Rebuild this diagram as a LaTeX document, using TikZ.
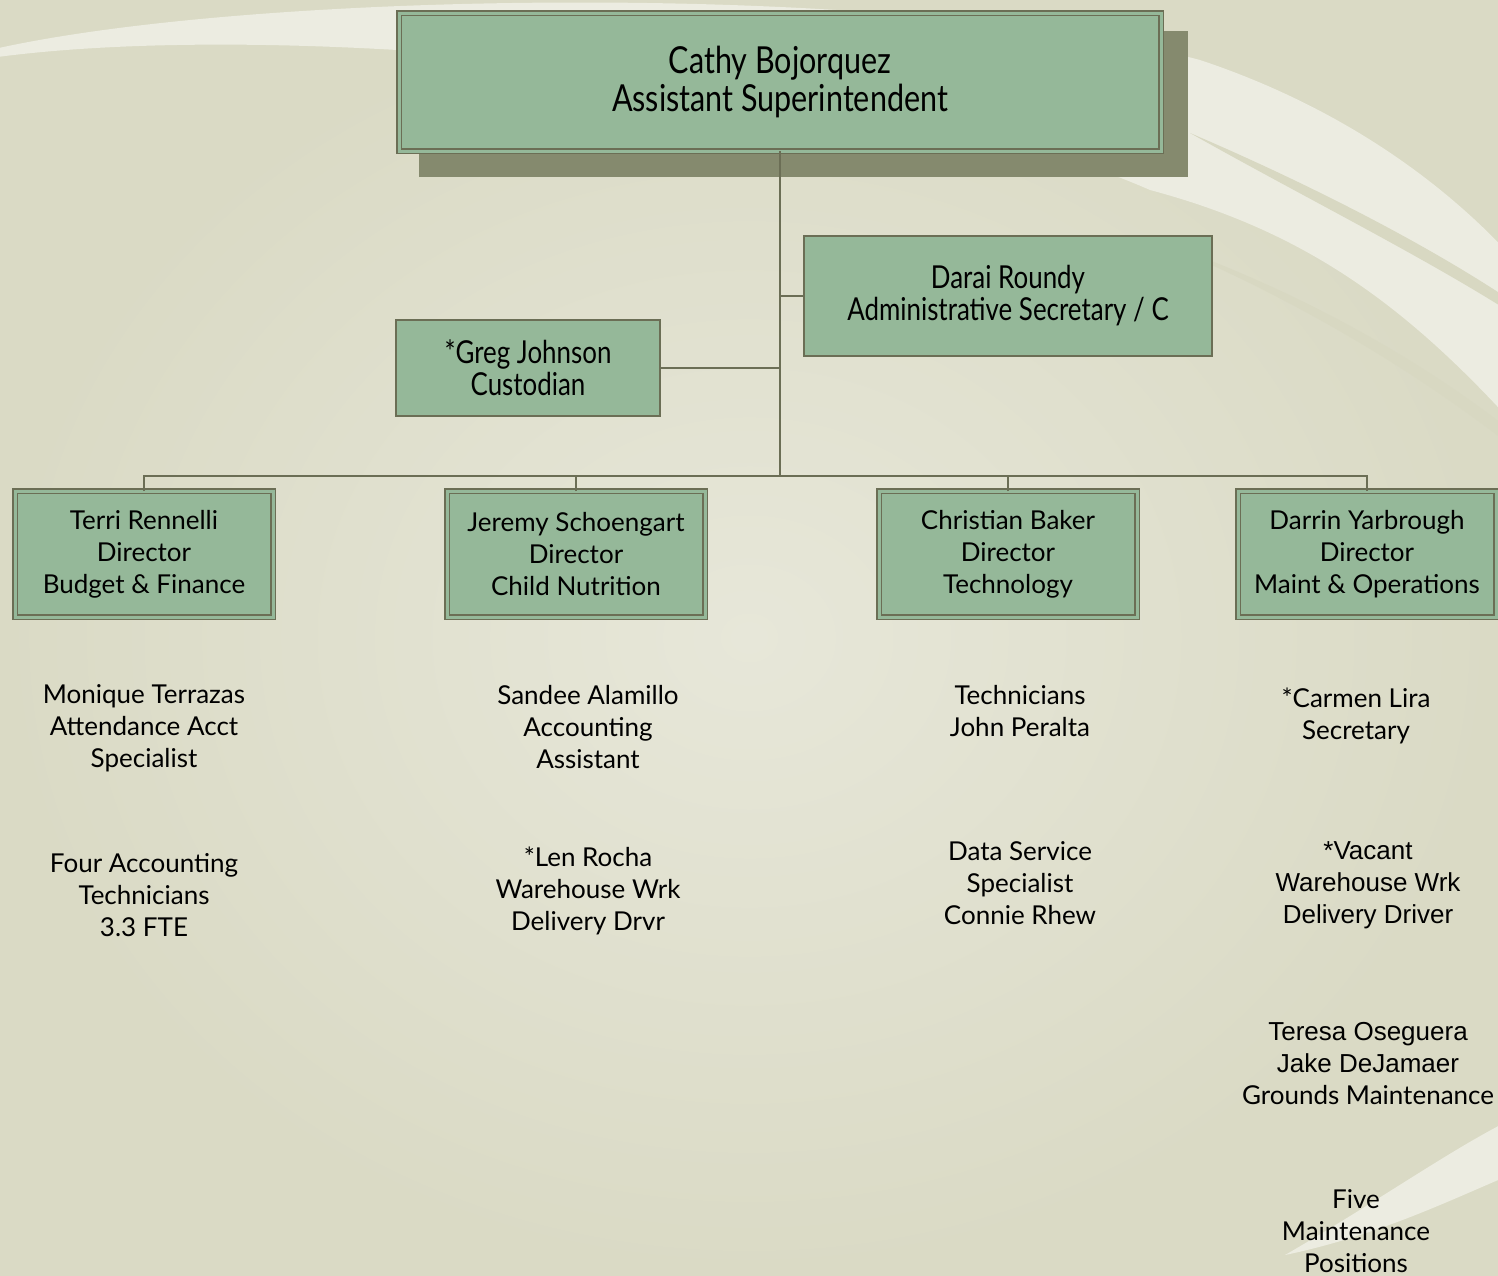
\documentclass[tikz,border=0pt]{standalone}
\usepackage{fontspec}
\setmainfont{Lato}
\newfontfamily\arialf{Liberation Sans}
\newfontfamily\condf[FakeStretch=0.82]{Lato}
\definecolor{bgout}{HTML}{DADAC5}
\definecolor{bgin}{HTML}{E7E7D9}
\definecolor{swoosh}{HTML}{ECECE1}
\definecolor{streak}{HTML}{D8D8C2}
\definecolor{boxfill}{HTML}{95B899}
\definecolor{boxline}{HTML}{6B6E55}
\definecolor{shadowc}{HTML}{858A6E}
\newcommand{\bodyfs}{\fontsize{13}{16}\selectfont}
\tikzset{
  dbox/.style={draw=boxline, double=boxfill, double distance=1.5pt, line width=0.75pt,
    fill=boxfill, align=center, inner sep=0pt, outer sep=0pt, font=\bodyfs},
  sbox/.style={draw=boxline, line width=1pt, fill=boxfill, align=center,
    inner sep=0pt, outer sep=0pt, font=\condf\fontsize{15.8}{16}\selectfont},
  lbl/.style={align=center, inner sep=0pt, font=\bodyfs},
  conn/.style={draw=boxline, line width=1pt}
}
\begin{document}
\begin{tikzpicture}[x=0.5pt, y=-0.5pt]
\useasboundingbox (0,0) rectangle (1498,1275);
% background
\shade[inner color=bgin, outer color=bgout] (0,0) rectangle (1498,1275);
\begin{scope}
\clip (0,0) rectangle (1498,1275);
\fill[swoosh] (-10,50) .. controls (250,-10) and (900,-20) .. (1200,60)
  .. controls (1350,110) and (1450,190) .. (1510,255)
  -- (1510,420) .. controls (1400,300) and (1300,230) .. (1150,190)
  .. controls (900,80) and (300,15) .. (-10,58) -- cycle;
\fill[streak] (1190,133) .. controls (1300,180) and (1420,240) .. (1510,300)
  -- (1510,312) .. controls (1420,255) and (1300,195) .. (1190,133) -- cycle;
\fill[streak] (1150,238) .. controls (1300,290) and (1420,360) .. (1510,430)
  -- (1510,445) .. controls (1420,375) and (1300,300) .. (1150,238) -- cycle;
\fill[swoosh] (1285,1255) .. controls (1380,1200) and (1450,1150) .. (1510,1120)
  -- (1510,1175) .. controls (1450,1200) and (1380,1235) .. (1285,1255) -- cycle;
\end{scope}
% top
\fill[shadowc] (419,31) rectangle (1188,177);
\node[dbox, minimum width=381pt, minimum height=69pt,
  font=\condf\fontsize{18.6}{19}\selectfont] (top) at (780,82)
  {Cathy Bojorquez\\Assistant Superintendent};
\node[sbox, minimum width=204pt, minimum height=60pt] (darai) at (1008,296)
  {Darai Roundy\\Administrative Secretary / C};
\node[sbox, minimum width=132pt, minimum height=48pt] (greg) at (528,368)
  {*Greg Johnson\\Custodian};
% directors
\node[dbox, minimum width=129pt, minimum height=63pt] (terri) at (144,554)
  {Terri Rennelli\\Director\\Budget \& Finance};
\node[dbox, minimum width=129pt, minimum height=63pt] (jeremy) at (576,554)
  {Jeremy Schoengart\\Director\\Child Nutrition};
\node[dbox, minimum width=129pt, minimum height=63pt] (christian) at (1008,554)
  {Christian Baker\\Director\\Technology};
\node[dbox, minimum width=129pt, minimum height=63pt] (darrin) at (1367,554)
  {Darrin Yarbrough\\Director\\Maint \& Operations};
% connectors
\coordinate (hub) at (780,476);
\draw[conn] (top.south) -- (hub);
\draw[conn] (darai.west) -- (darai.west -| hub);
\draw[conn] (greg.east) -- (greg.east -| hub);
\draw[conn] (terri.north) -- (terri.north |- hub) -- (darrin.north |- hub) -- (darrin.north);
\draw[conn] (jeremy.north) -- (jeremy.north |- hub);
\draw[conn] (christian.north) -- (christian.north |- hub);
% staff
\node[lbl] (monique) at (144,728) {Monique Terrazas\\Attendance Acct\\Specialist};
\node[lbl] (four) at (144,895) {Four Accounting\\Technicians\\3.3 FTE};
\node[lbl] (sandee) at (588,727) {Sandee Alamillo\\Accounting\\Assistant};
\node[lbl] (len) at (588,891) {*Len Rocha\\Warehouse Wrk\\Delivery Drvr};
\node[lbl] (tech) at (1020,711) {Technicians\\John Peralta};
\node[lbl] (data) at (1020,883) {Data Service\\Specialist\\Connie Rhew};
\node[lbl] (carmen) at (1356,716) {*Carmen Lira\\Secretary};
\node[lbl] (vacant) at (1368,885) {{\arialf *Vacant}\\{\arialf Warehouse Wrk}\\{\arialf Delivery Driver}};
\node[lbl] (teresa) at (1368,1064) {{\arialf Teresa Oseguera}\\{\arialf Jake DeJamaer}\\Grounds Maintenance};
\node[lbl] (five) at (1356,1231) {Five\\Maintenance\\Positions};
\end{tikzpicture}
\end{document}
